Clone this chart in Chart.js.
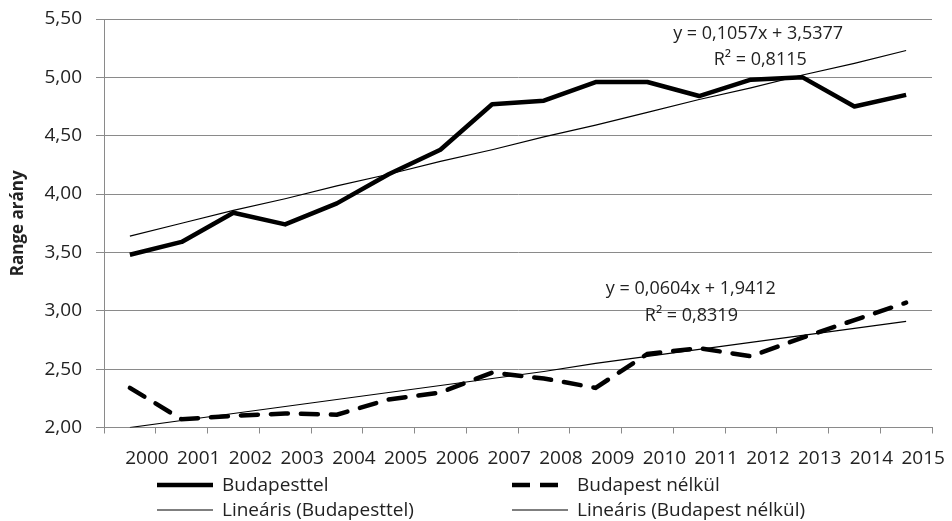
<!DOCTYPE html>
<html>
<head>
<meta charset="utf-8">
<script src="https://cdn.jsdelivr.net/npm/chart.js@4"></script>
<style>
  html, body { margin: 0; padding: 0; background: #fff; }
  #wrap { width: 952px; height: 521px; }
</style>
</head>
<body>
<div id="wrap"><canvas id="chart" width="952" height="521"></canvas></div>
<script>
// values
const years = ['2000', '2001', '2002', '2003', '2004', '2005', '2006', '2007',
  '2008', '2009', '2010', '2011', '2012', '2013', '2014', '2015'];
const withBudapest = [3.48, 3.59, 3.84, 3.74, 3.92, 4.17, 4.38, 4.77,
  4.80, 4.96, 4.96, 4.84, 4.98, 5.00, 4.75, 4.85];
const withoutBudapest = [2.34, 2.07, 2.10, 2.12, 2.11, 2.24, 2.30, 2.47,
  2.42, 2.34, 2.63, 2.68, 2.61, 2.77, 2.92, 3.07];
// linear trend lines (y = 0,1057x + 3,5377 and y = 0,0604x + 1,9412)
const trendWith = [3.64, 3.75, 3.86, 3.96, 4.07, 4.17, 4.28, 4.38,
  4.49, 4.59, 4.70, 4.81, 4.91, 5.02, 5.12, 5.23];
const trendWithout = [2.00, 2.06, 2.12, 2.18, 2.24, 2.30, 2.36, 2.42,
  2.48, 2.55, 2.61, 2.67, 2.73, 2.79, 2.85, 2.91];
const legendLabels = ['Budapesttel', 'Budapest nélkül', 'Lineáris (Budapesttel)', 'Lineáris (Budapest nélkül)'];
const trendTexts = [['y = 0,1057x + 3,5377', 'R² = 0,8115'], ['y = 0,0604x + 1,9412', 'R² = 0,8319']];

const FONT = "'Open Sans', 'Noto Sans', sans-serif";
const GRID = '#8a8a8a';

// trend equations and legend, drawn on the canvas
const extras = {
  id: 'extras',
  afterDraw(chart) {
    const ctx = chart.ctx;
    const x = chart.scales.x, y = chart.scales.y;
    ctx.save();
    ctx.fillStyle = '#222';
    ctx.font = '18px ' + FONT;
    ctx.textAlign = 'center';
    ctx.textBaseline = 'middle';
    ctx.fillText(trendTexts[0][0], x.getPixelForValue(12.14), y.getPixelForValue(5.376));
    ctx.fillText(trendTexts[0][1], x.getPixelForValue(12.18), y.getPixelForValue(5.153));
    ctx.fillText(trendTexts[1][0], x.getPixelForValue(10.84), y.getPixelForValue(3.188));
    ctx.fillText(trendTexts[1][1], x.getPixelForValue(10.85), y.getPixelForValue(2.956));

    // legend, two columns
    const items = [
      { x: 157, y: 485, w: 4.5, dash: [] },
      { x: 512, y: 485, w: 4.5, dash: [18, 10] },
      { x: 157, y: 510, w: 1.2, dash: [] },
      { x: 512, y: 510, w: 1.2, dash: [] }
    ];
    ctx.textAlign = 'left';
    ctx.font = '19px ' + FONT;
    items.forEach((it, i) => {
      ctx.beginPath();
      ctx.strokeStyle = '#000';
      ctx.lineWidth = it.w;
      ctx.setLineDash(it.dash);
      ctx.moveTo(it.x, it.y);
      ctx.lineTo(it.x + 56, it.y);
      ctx.stroke();
      ctx.setLineDash([]);
      ctx.fillText(legendLabels[i], it.x + 65, it.y + 1);
    });
    ctx.restore();
  }
};

new Chart(document.getElementById('chart'), {
  type: 'line',
  data: {
    labels: years,
    datasets: [
      {
        label: legendLabels[0],
        data: withBudapest,
        borderColor: '#000',
        borderWidth: 4.5,
        pointRadius: 0,
        borderJoinStyle: 'round',
        tension: 0
      },
      {
        label: legendLabels[1],
        data: withoutBudapest,
        borderColor: '#000',
        borderWidth: 4.5,
        borderDash: [17, 13],
        borderCapStyle: 'round',
        pointRadius: 0,
        tension: 0
      },
      {
        label: legendLabels[2],
        data: trendWith,
        borderColor: '#000',
        borderWidth: 1.2,
        pointRadius: 0
      },
      {
        label: legendLabels[3],
        data: trendWithout,
        borderColor: '#000',
        borderWidth: 1.2,
        pointRadius: 0
      }
    ]
  },
  options: {
    responsive: false,
    animation: false,
    layout: { padding: { left: 0, top: 19, right: 20, bottom: 0 } },
    plugins: {
      legend: { display: false },
      tooltip: { enabled: false }
    },
    scales: {
      x: {
        type: 'category',
        offset: true,
        grid: {
          offset: true,
          drawOnChartArea: false,
          drawTicks: true,
          tickLength: 6,
          color: GRID
        },
        border: { color: GRID, width: 1 },
        ticks: {
          color: '#222',
          font: { family: FONT, size: 19 },
          labelOffset: 17,
          padding: 14,
          maxRotation: 0,
          autoSkip: false
        },
        afterFit: (scale) => { scale.height = 93.5; }
      },
      y: {
        min: 2,
        max: 5.5,
        grid: { color: GRID, tickLength: 8 },
        border: { color: GRID, width: 1 },
        ticks: {
          stepSize: 0.5,
          color: '#222',
          padding: 14,
          font: { family: FONT, size: 19 },
          callback: (v) => v.toFixed(2).replace('.', ',')
        },
        title: {
          display: true,
          text: 'Range arány',
          color: '#222',
          font: { family: FONT, size: 17, weight: 'bold' },
          padding: { top: 8, bottom: 4 }
        },
        afterFit: (scale) => {
          scale.width = 104;
          scale.paddingTop = 0;
          scale.paddingBottom = 0;
        }
      }
    }
  },
  plugins: [extras]
});
</script>
</body>
</html>
